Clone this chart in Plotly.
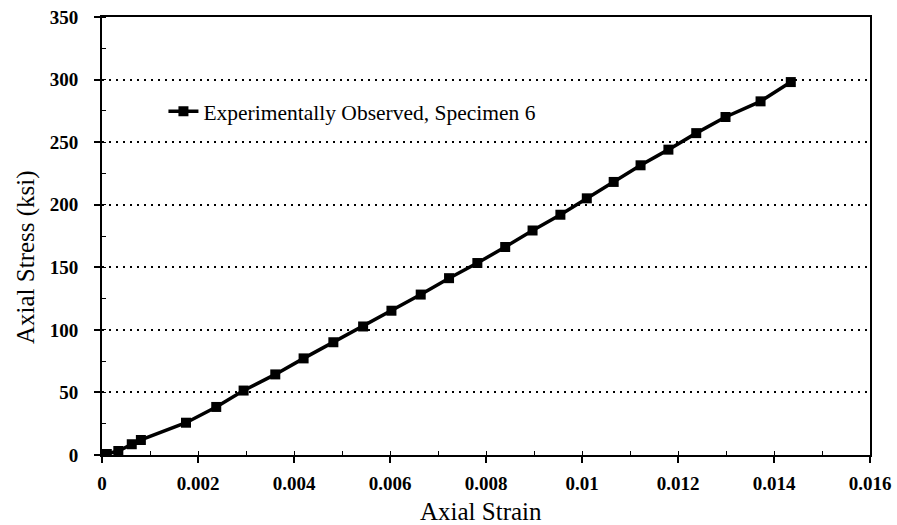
import plotly.graph_objects as go

strain = [0.0, 0.00010, 0.00034, 0.00062, 0.00081, 0.00175, 0.00238, 0.00295, 0.00361,
          0.00420, 0.00482, 0.00544, 0.00603, 0.00664, 0.00723, 0.00782, 0.00840,
          0.00897, 0.00955, 0.01010, 0.01066, 0.01122, 0.01180, 0.01238, 0.01299,
          0.01372, 0.01435]
stress = [0.0, 0.8, 3.2, 8.6, 12.0, 25.8, 38.4, 51.5, 64.4,
          77.2, 90.1, 102.7, 115.3, 128.2, 141.3, 153.4, 166.2,
          179.4, 192.0, 205.1, 218.2, 231.5, 244.0, 257.2, 270.1,
          282.6, 298.0]
series_name = "Experimentally Observed, Specimen 6"
x_ticks = [0, 0.002, 0.004, 0.006, 0.008, 0.010, 0.012, 0.014, 0.016]
x_tick_text = ["0", "0.002", "0.004", "0.006", "0.008", "0.01", "0.012", "0.014", "0.016"]
y_ticks = [0, 50, 100, 150, 200, 250, 300, 350]
x_title = "Axial Strain"
y_title = "Axial Stress (ksi)"

FONT = "Liberation Serif, Times New Roman, serif"

fig = go.Figure()
fig.add_trace(go.Scatter(
    x=strain, y=stress, mode="lines+markers", name=series_name,
    line=dict(color="black", width=3.5),
    marker=dict(symbol="square", size=10, color="black"),
))

fig.update_layout(
    width=897, height=525,
    margin=dict(l=102, r=27, t=17, b=70, autoexpand=False),
    paper_bgcolor="white", plot_bgcolor="white",
    font=dict(family=FONT, color="black"),
    showlegend=True,
    legend=dict(x=0.08, y=0.785, xanchor="left", yanchor="middle",
                bgcolor="rgba(0,0,0,0)", font=dict(size=21.5, family=FONT),
                itemwidth=30),
    annotations=[
        dict(text=y_title, xref="paper", yref="paper", x=-0.099, y=0.452,
             xanchor="center", yanchor="middle", textangle=-90, showarrow=False,
             font=dict(size=25, family=FONT, color="black")),
        dict(text=x_title, xref="paper", yref="paper", x=0.4935, y=-0.128,
             xanchor="center", yanchor="middle", showarrow=False,
             font=dict(size=25, family=FONT, color="black")),
    ],
)
fig.update_xaxes(
    range=[0, 0.016], tickvals=x_ticks, ticktext=x_tick_text,
    showgrid=False, zeroline=False, automargin=False,
    showline=True, linecolor="black", linewidth=2, mirror=True,
    ticks="outside", ticklen=6, tickwidth=1.5, tickcolor="black",
    minor=dict(dtick=0.001, ticks="inside", ticklen=4, tickwidth=1.2, tickcolor="black", showgrid=False),
    ticklabelstandoff=4,
    tickfont=dict(size=19, family=FONT, weight="bold"),
)
fig.update_yaxes(
    range=[0, 350], tickvals=y_ticks,
    showgrid=True, gridcolor="black", gridwidth=1.5, griddash="2px,5px",
    zeroline=False, automargin=False,
    showline=True, linecolor="black", linewidth=2, mirror=True,
    ticks="outside", ticklen=6, tickwidth=1.5, tickcolor="black",
    minor=dict(dtick=25, ticks="inside", ticklen=4, tickwidth=1.2, tickcolor="black", showgrid=False),
    ticklabelstandoff=12,
    tickfont=dict(size=19, family=FONT, weight="bold"),
)

fig.write_html("out.html")
